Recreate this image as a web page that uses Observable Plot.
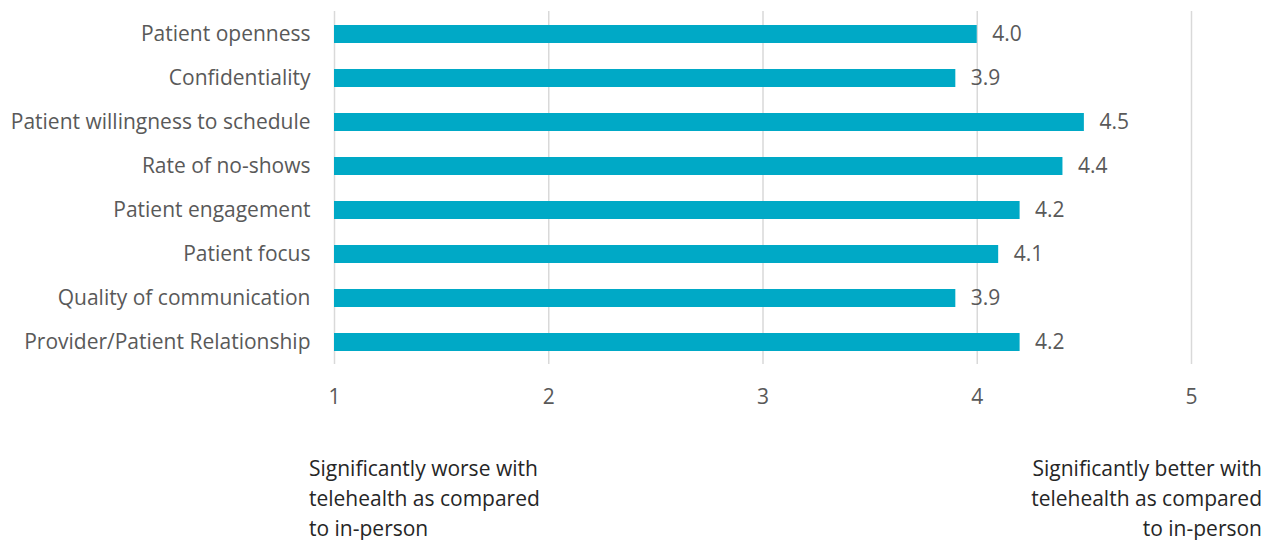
<!DOCTYPE html>
<html>
<head>
<meta charset="utf-8">
<script src="https://cdn.jsdelivr.net/npm/d3@7"></script>
<script src="https://cdn.jsdelivr.net/npm/@observablehq/plot@0.6"></script>
<style>
  html, body { margin: 0; padding: 0; background: #fff; }
  #wrap { position: relative; width: 1266px; height: 540px; font-family: "Open Sans", sans-serif; }
  .note { position: absolute; font-size: 21px; line-height: 30px; color: #262626; }
</style>
</head>
<body>
<div id="wrap">
  <div id="chart"></div>
  <div class="note" id="noteLeft" style="left:309px; top:453px; text-align:left;"></div>
  <div class="note" id="noteRight" style="right:4px; top:453px; text-align:right;"></div>
</div>
<script>
const categories = [
  "Patient openness",
  "Confidentiality",
  "Patient willingness to schedule",
  "Rate of no-shows",
  "Patient engagement",
  "Patient focus",
  "Quality of communication",
  "Provider/Patient Relationship"
];
const values = [4.0, 3.9, 4.5, 4.4, 4.2, 4.1, 3.9, 4.2];
const xTicks = [1, 2, 3, 4, 5];
const leftNote = ["Significantly worse with", "telehealth as compared", "to in-person"];
const rightNote = ["Significantly better with", "telehealth as compared", "to in-person"];

const data = categories.map((c, i) => ({category: c, value: values[i]}));

const chart = Plot.plot({
  width: 1266,
  height: 420,
  marginLeft: 334,
  marginRight: 75,
  marginTop: 11,
  marginBottom: 56,
  style: {fontFamily: "'Open Sans', sans-serif", fontSize: "21px", color: "#595959", background: "#fff"},
  x: {domain: [1, 5], ticks: xTicks, tickSize: 0, tickPadding: 25, tickFormat: d => String(d), label: null},
  y: {domain: categories, paddingInner: 0.6, paddingOuter: 0.3, label: null, tickSize: 0, tickPadding: 24},
  marks: [
    Plot.ruleX(xTicks, {stroke: "#d9d9d9", strokeWidth: 1.5}),
    Plot.barX(data, {x1: 1, x2: "value", y: "category", fill: "#00A9C6"}),
    Plot.text(data, {x: "value", y: "category", text: d => d.value.toFixed(1), textAnchor: "start", dx: 15, fill: "#595959", fontSize: 21})
  ]
});
document.getElementById("chart").appendChild(chart);
document.getElementById("noteLeft").innerHTML = leftNote.join("<br>");
document.getElementById("noteRight").innerHTML = rightNote.join("<br>");
</script>
</body>
</html>
